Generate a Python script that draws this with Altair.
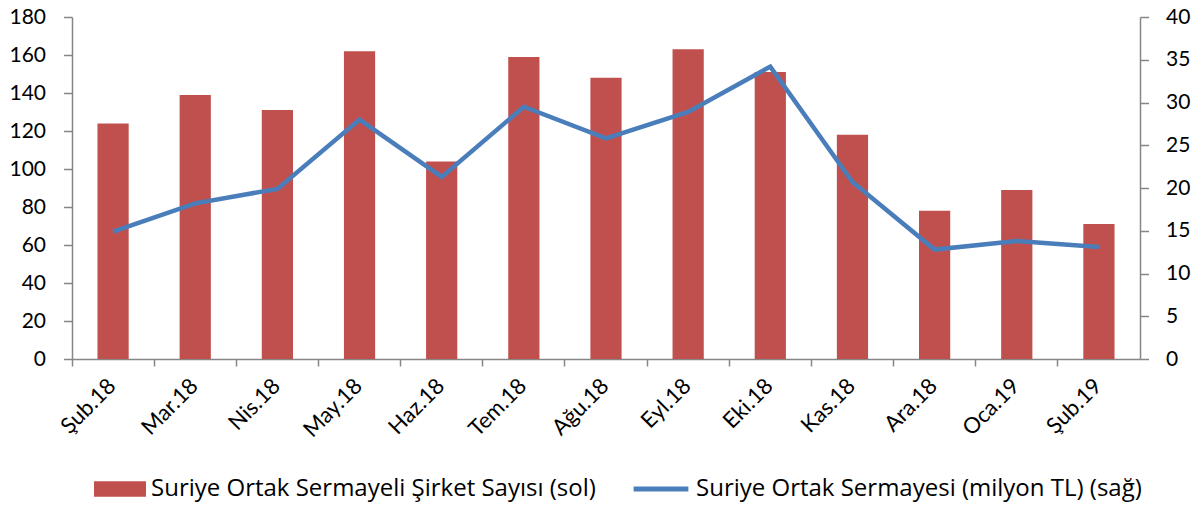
import altair as alt
import pandas as pd

months = ["Şub.18", "Mar.18", "Nis.18", "May.18", "Haz.18", "Tem.18", "Ağu.18",
          "Eyl.18", "Eki.18", "Kas.18", "Ara.18", "Oca.19", "Şub.19"]
company_count = [124, 139, 131, 162, 104, 159, 148, 163, 151, 118, 78, 89, 71]
capital_mn_tl = [14.9, 18.2, 19.9, 28.0, 21.3, 29.5, 25.8, 28.9, 34.2, 20.7, 12.8, 13.8, 13.1]
bar_name = "Suriye Ortak Sermayeli Şirket Sayısı (sol)"
line_name = "Suriye Ortak Sermayesi (milyon TL) (sağ)"
left_ticks = list(range(0, 181, 20))
right_ticks = list(range(0, 41, 5))

df = pd.DataFrame({"month": months, "count": company_count, "capital": capital_mn_tl})

RED = "#C0504D"
BLUE = "#4A7EBB"
GRAY = "#868686"

LEG_FONT = "Open Sans"
LEG_SIZE = 24
AX_FONT = "Lato"

bar_legend = alt.Legend(
    orient="none", legendX=22, legendY=446, title=None, symbolSize=2700,
    symbolType="M-1,-0.3L1,-0.3L1,0.3L-1,0.3Z", symbolStrokeWidth=0, symbolOpacity=1,
    labelFont=LEG_FONT, labelFontSize=LEG_SIZE, labelColor="black", labelOffset=5,
    labelLimit=700,
)
line_legend = alt.Legend(
    orient="none", legendX=559, legendY=442, title=None, symbolSize=3000,
    symbolType="stroke", symbolStrokeWidth=5, symbolOpacity=1,
    labelFont=LEG_FONT, labelFontSize=LEG_SIZE, labelColor="black", labelOffset=5,
    labelLimit=700,
)

x_scale = alt.Scale(paddingInner=0, paddingOuter=0)

bars = alt.Chart(df).transform_calculate(series=f"'{bar_name}'").mark_bar(
    width={"band": 0.38}
).encode(
    x=alt.X("month:N", sort=months, scale=x_scale, title=None,
            axis=alt.Axis(orient="bottom", labelAngle=-45, ticks=False, domain=True,
                          domainColor=GRAY, domainWidth=1.5, labelFont=AX_FONT,
                          labelFontSize=22, labelColor="black", labelPadding=16,
                          labelOffset=-8)),
    y=alt.Y("count:Q", scale=alt.Scale(domain=[0, 180]), title=None,
            axis=alt.Axis(orient="left", values=left_ticks, grid=False, labelFont=AX_FONT,
                          labelFontSize=21, labelColor="black", tickSize=8.5, tickColor=GRAY,
                          domainColor=GRAY, domainWidth=1.5, tickWidth=1.5, labelPadding=18)),
    fill=alt.Fill("series:N", scale=alt.Scale(domain=[bar_name], range=[RED]), legend=bar_legend),
)

line = alt.Chart(df).transform_calculate(series=f"'{line_name}'").mark_line(
    strokeWidth=4.5
).encode(
    x=alt.X("month:N", sort=months, scale=x_scale, title=None,
            axis=alt.Axis(orient="bottom", labels=False, ticks=True, bandPosition=0,
                          tickSize=7, tickColor=GRAY, tickWidth=1.5, domain=False)),
    y=alt.Y("capital:Q", scale=alt.Scale(domain=[0, 40]), title=None,
            axis=alt.Axis(orient="right", values=right_ticks, grid=False, labelFont=AX_FONT,
                          labelFontSize=21, labelColor="black", tickSize=8.5, tickColor=GRAY,
                          domainColor=GRAY, domainWidth=1.5, tickWidth=1.5, labelPadding=17)),
    stroke=alt.Stroke("series:N", scale=alt.Scale(domain=[line_name], range=[BLUE]), legend=line_legend),
)

chart = alt.layer(bars, line).resolve_scale(y="independent").resolve_axis(
    x="independent"
).properties(
    width=1068, height=342,
    autosize=alt.AutoSizeParams(type="none"),
    padding={"left": 64, "top": 9, "right": 55, "bottom": 145},
).configure_view(stroke=None)

chart.save("out.html", embed_options={"renderer": "svg", "actions": False})
